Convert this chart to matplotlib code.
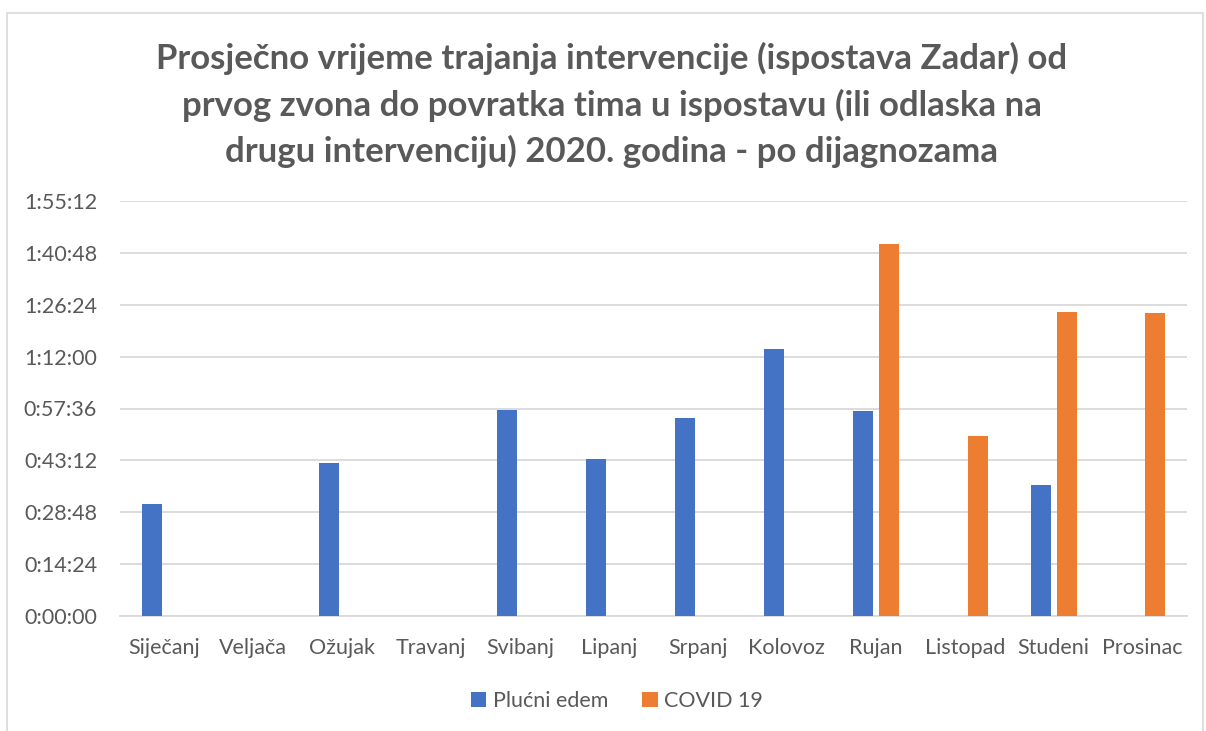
import matplotlib
matplotlib.use("Agg")
import matplotlib.pyplot as plt
from matplotlib.ticker import FuncFormatter, MultipleLocator
from matplotlib.patches import Rectangle
import numpy as np

plt.rcParams['font.family'] = ['Lato', 'DejaVu Sans']

months = ["Siječanj", "Veljača", "Ožujak", "Travanj", "Svibanj", "Lipanj",
          "Srpanj", "Kolovoz", "Rujan", "Listopad", "Studeni", "Prosinac"]
# values in seconds (NaN = no value)
plucni_edem = [1858, np.nan, 2555, np.nan, 3431, 2611, 3297, 4446, 3409, np.nan, 2176, np.nan]
covid19 = [np.nan, np.nan, np.nan, np.nan, np.nan, np.nan, np.nan, np.nan, 6204, 2990, 5065, 5054]
series_names = ["Plućni edem", "COVID 19"]
colors = ["#4472C4", "#ED7D31"]

title = ("Prosječno vrijeme trajanja intervencije (ispostava Zadar) od\n"
         "prvog zvona do povratka tima u ispostavu (ili odlaska na\n"
         "drugu intervenciju) 2020. godina - po dijagnozama")

W, H = 1206, 731
fig = plt.figure(figsize=(W / 100, H / 100), dpi=100)
fig.patch.set_facecolor("white")
# outer chart border
fig.patches.append(Rectangle((7 / W, -0.01), (1203 - 7) / W, 1 - 13 / H + 0.01,
                             transform=fig.transFigure, fill=False,
                             edgecolor="#D9D9D9", linewidth=1.2))

ax = fig.add_axes([120 / W, 1 - 616 / H, (1187 - 120) / W, (616 - 201) / H])
x = np.arange(len(months))
bw = 0.225
off = 0.145
ax.bar(x - off, plucni_edem, width=bw, color=colors[0], label=series_names[0], zorder=3)
ax.bar(x + off, covid19, width=bw, color=colors[1], label=series_names[1], zorder=3)

ax.set_xlim(-0.5, len(months) - 0.5)
ax.set_ylim(0, 6912)
ax.yaxis.set_major_locator(MultipleLocator(864))

def fmt(v, pos):
    s = int(round(v))
    return f"{s // 3600}:{(s % 3600) // 60:02d}:{s % 60:02d}"

ax.yaxis.set_major_formatter(FuncFormatter(fmt))
ax.set_xticks(x)
ax.set_xticklabels(months)
ax.tick_params(axis="both", length=0, labelsize=15.5, colors="#595959")
ax.tick_params(axis="y", pad=16.5)
ax.tick_params(axis="x", pad=16)
ax.grid(axis="y", color="#D9D9D9", linewidth=1.3, zorder=0)
for s in ["top", "right", "left"]:
    ax.spines[s].set_visible(False)
ax.spines["bottom"].set_color("#D9D9D9")
ax.spines["bottom"].set_linewidth(1.3)

fig.text(0.507, 1 - 105 / H, title, ha="center", va="center", fontsize=25,
         fontweight="bold", color="#595959", linespacing=1.5)

leg = fig.legend(loc="center", bbox_to_anchor=(617 / W, 1 - 701 / H), ncol=2,
                 frameon=False, fontsize=15.5, handlelength=0.7, handleheight=0.7,
                 handletextpad=0.3, columnspacing=1.6)
for t in leg.get_texts():
    t.set_color("#595959")

fig.savefig("out.png", dpi=100, facecolor="white")
